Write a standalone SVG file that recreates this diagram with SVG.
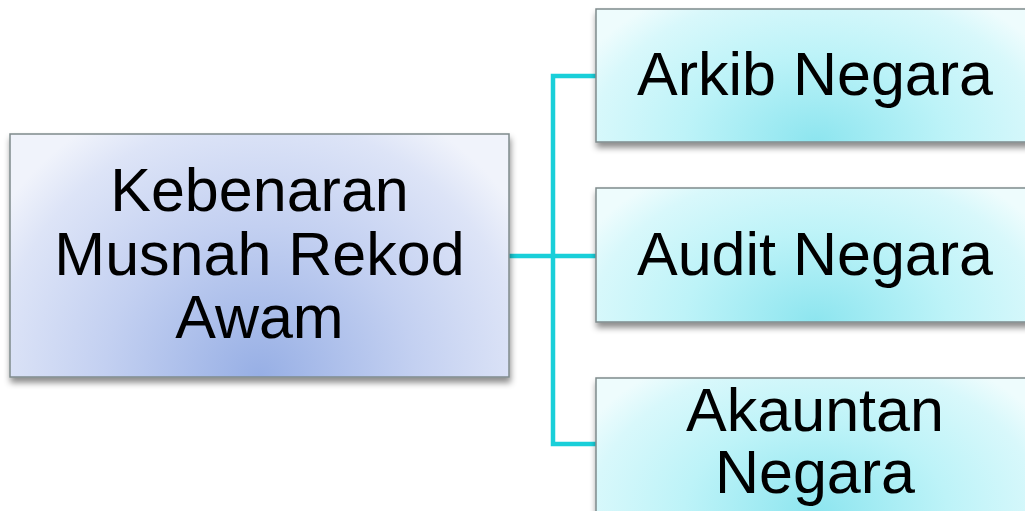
<svg xmlns="http://www.w3.org/2000/svg" width="1025" height="511" viewBox="0 0 1025 511">
<defs>
<style>
.box{stroke:#7f8a8c;stroke-width:1.5;filter:url(#sh)}
.t{font-family:"Liberation Sans",Arial,sans-serif;font-size:61px;fill:#000;text-anchor:middle}
.c{fill:none;stroke:#19cfd9;stroke-width:4.5;stroke-linejoin:miter}
</style>
<filter id="sh" x="-10%" y="-10%" width="120%" height="130%">
<feDropShadow dx="1" dy="5" stdDeviation="3" flood-color="#000" flood-opacity="0.45"/>
</filter>
<radialGradient id="gL" cx="50%" cy="100%" r="62%" fx="50%" fy="100%" gradientTransform="translate(0.5 1) scale(1 2) translate(-0.5 -1)">
<stop offset="0" stop-color="#97afe5"/>
<stop offset="0.5" stop-color="#c3d0f1"/>
<stop offset="0.85" stop-color="#dde4f7"/>
<stop offset="1" stop-color="#f0f3fb"/>
</radialGradient>
<radialGradient id="gR" cx="50%" cy="100%" r="60%" fx="50%" fy="100%" gradientTransform="translate(0.5 1) scale(1 2.2) translate(-0.5 -1)">
<stop offset="0" stop-color="#8de5ef"/>
<stop offset="0.5" stop-color="#bdf3f8"/>
<stop offset="0.85" stop-color="#d8f8fb"/>
<stop offset="1" stop-color="#eefcfd"/>
</radialGradient>
</defs>
<rect width="1025" height="511" fill="#fff"/>
<g id="connectors">
<path class="c" d="M509 256 H596"/>
<path class="c" d="M596 76 H553 V444 H596"/>
</g>
<g id="n0">
<rect class="box" x="10" y="134" width="499" height="243" fill="url(#gL)"/>
<text class="t" x="259.5" y="211">Kebenaran</text>
<text class="t" x="259.5" y="275">Musnah Rekod</text>
<text class="t" x="259.5" y="338">Awam</text>
</g>
<g id="n1">
<rect class="box" x="596" y="9" width="440" height="133" fill="url(#gR)"/>
<text class="t" x="815" y="95">Arkib Negara</text>
</g>
<g id="n2">
<rect class="box" x="596" y="188" width="440" height="134" fill="url(#gR)"/>
<text class="t" x="815" y="275">Audit Negara</text>
</g>
<g id="n3">
<rect class="box" x="596" y="378" width="440" height="134" fill="url(#gR)"/>
<text class="t" x="815" y="431">Akauntan</text>
<text class="t" x="815" y="493">Negara</text>
</g>
</svg>
